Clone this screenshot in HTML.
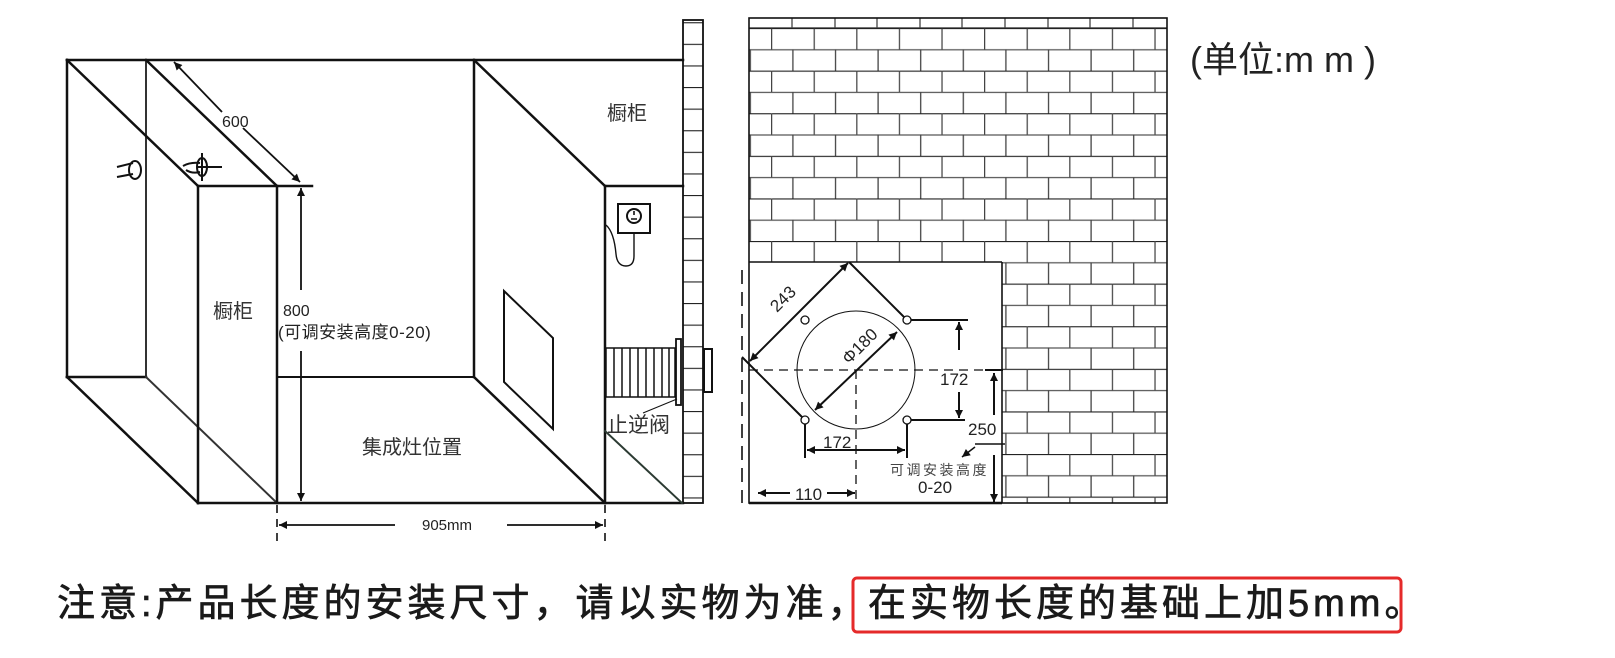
<!DOCTYPE html>
<html><head><meta charset="utf-8"><style>
html,body{margin:0;padding:0;background:#fff;}
body{width:1615px;height:658px;overflow:hidden;position:relative;font-family:"Liberation Sans","Noto Sans CJK SC",sans-serif;}
svg{position:absolute;left:0;top:0;}
</style></head><body>
<svg width="1615" height="658" viewBox="0 0 1615 658" xmlns="http://www.w3.org/2000/svg" font-family="Liberation Sans, Noto Sans CJK SC, sans-serif">
<defs>
<marker id="ah" viewBox="0 0 10 10" refX="10" refY="5" markerWidth="11" markerHeight="8" markerUnits="userSpaceOnUse" orient="auto-start-reverse"><path d="M0,0 L10,5 L0,10 z" fill="#111"/></marker>
<pattern id="brick" x="771" y="28" width="42.6" height="42.6" patternUnits="userSpaceOnUse">
<line x1="0" y1="0.5" x2="42.6" y2="0.5" stroke="#222" stroke-width="1.2"/>
<line x1="0" y1="21.8" x2="42.6" y2="21.8" stroke="#555" stroke-width="1.2"/>
<line x1="0.6" y1="0" x2="0.6" y2="21.3" stroke="#444" stroke-width="1.3"/>
<line x1="21.9" y1="21.3" x2="21.9" y2="42.6" stroke="#444" stroke-width="1.3"/>
</pattern>
<pattern id="strip" x="683" y="303" width="20" height="21.6" patternUnits="userSpaceOnUse">
<line x1="0" y1="0.5" x2="20" y2="0.5" stroke="#222" stroke-width="1.2"/>
</pattern>
</defs>

<rect x="749" y="28" width="418" height="475" fill="url(#brick)"/>
<line x1="749" y1="28" x2="1167" y2="28" stroke="#222" stroke-width="1.2"/>
<g stroke="#444" stroke-width="1.3">
<line x1="792" y1="18" x2="792" y2="28"/><line x1="835" y1="18" x2="835" y2="28"/><line x1="877" y1="18" x2="877" y2="28"/><line x1="920" y1="18" x2="920" y2="28"/><line x1="962" y1="18" x2="962" y2="28"/><line x1="1005" y1="18" x2="1005" y2="28"/><line x1="1048" y1="18" x2="1048" y2="28"/><line x1="1090" y1="18" x2="1090" y2="28"/><line x1="1133" y1="18" x2="1133" y2="28"/>
</g>
<rect x="749" y="262" width="253" height="241" fill="#fff"/>
<rect x="749" y="18" width="418" height="485" fill="none" stroke="#111" stroke-width="1.6"/>
<line x1="749" y1="262" x2="1002" y2="262" stroke="#111" stroke-width="1.6"/>
<line x1="1002" y1="262" x2="1002" y2="503" stroke="#111" stroke-width="1.6"/>
<line x1="749" y1="503" x2="1002" y2="503" stroke="#111" stroke-width="2.5"/>

<rect x="683" y="20" width="20" height="483" fill="url(#strip)"/>
<rect x="683" y="20" width="20" height="483" fill="none" stroke="#111" stroke-width="1.8"/>

<g stroke="#111" stroke-width="2.5" fill="none" stroke-linecap="square">
<line x1="67" y1="60" x2="683" y2="60"/>
<line x1="67" y1="60" x2="67" y2="377"/>
<line x1="146" y1="60" x2="146" y2="377" stroke="#333" stroke-width="2"/>
<line x1="67" y1="60" x2="198" y2="186"/>
<line x1="146" y1="60" x2="277" y2="186"/>
<line x1="67" y1="377" x2="146" y2="377"/>
<line x1="67" y1="377" x2="198" y2="503"/>
<line x1="146" y1="377" x2="277" y2="503" stroke="#333" stroke-width="2"/>
<line x1="198" y1="186" x2="198" y2="503"/>
<line x1="277" y1="186" x2="277" y2="503"/>
<line x1="198" y1="186" x2="312" y2="186"/>
<line x1="198" y1="503" x2="683" y2="503"/>
<line x1="277" y1="377" x2="474" y2="377" stroke-width="2"/>
<line x1="474" y1="60" x2="474" y2="377"/>
<line x1="474" y1="60" x2="605" y2="186"/>
<line x1="474" y1="377" x2="605" y2="503"/>
<line x1="605" y1="186" x2="605" y2="503"/>
<line x1="605" y1="186" x2="683" y2="186"/>
<line x1="605" y1="431" x2="682" y2="503" stroke="#2c3b33" stroke-width="2"/>
<polygon points="504,291 553,338 553,429 504,382" stroke-width="2"/>
</g>

<g stroke="#111" stroke-width="2" fill="none">
<ellipse cx="135" cy="170" rx="6" ry="9"/>
<line x1="117" y1="167" x2="133" y2="163"/>
<line x1="117" y1="177" x2="133" y2="174"/>
<ellipse cx="202" cy="167" rx="5" ry="9"/>
<line x1="202" y1="153" x2="202" y2="181"/>
<line x1="198" y1="167" x2="222" y2="167"/>
<path d="M183,166 Q190,162 200,163 M186,170 Q192,174 200,172"/>
</g>

<g stroke="#111" fill="none">
<rect x="618" y="204" width="32" height="29" stroke-width="2"/>
<circle cx="634" cy="216" r="7" stroke-width="2"/>
<path d="M634,211 v4 M631,219 h6" stroke-width="1.6"/>
<path d="M634,233 V256 Q634,266 626,266 Q617,266 616,254 Q614,232 606,225" stroke-width="1.4"/>
</g>

<g stroke="#111" fill="none">
<rect x="606" y="348" width="69" height="49" stroke-width="1.5"/>
<g stroke-width="1.5">
<line x1="614" y1="348" x2="614" y2="397"/><line x1="622" y1="348" x2="622" y2="397"/><line x1="630" y1="348" x2="630" y2="397"/><line x1="638" y1="348" x2="638" y2="397"/><line x1="646" y1="348" x2="646" y2="397"/><line x1="654" y1="348" x2="654" y2="397"/><line x1="662" y1="348" x2="662" y2="397"/><line x1="669" y1="348" x2="669" y2="397"/>
</g>
<rect x="676" y="339" width="5" height="66" stroke-width="1.8"/>
<rect x="704" y="349" width="8" height="43" stroke-width="2"/>
<line x1="643" y1="413" x2="677" y2="399" stroke-width="1"/>
</g>
<text x="607" y="432" font-size="21" fill="#333">止逆阀</text>

<g stroke="#111" stroke-width="1.8">
<line x1="222" y1="112" x2="174" y2="62" marker-end="url(#ah)"/>
<line x1="243" y1="128" x2="300" y2="182" marker-end="url(#ah)"/>
<line x1="301" y1="290" x2="301" y2="188" marker-end="url(#ah)"/>
<line x1="301" y1="351" x2="301" y2="501" marker-end="url(#ah)"/>
<line x1="395" y1="525" x2="279" y2="525" marker-end="url(#ah)"/>
<line x1="507" y1="525" x2="603" y2="525" marker-end="url(#ah)"/>
</g>
<g stroke="#111" stroke-width="1.6" stroke-dasharray="8,6">
<line x1="277" y1="505" x2="277" y2="545"/>
<line x1="605" y1="505" x2="605" y2="545"/>
</g>
<g fill="#222" font-size="16">
<text x="222" y="127">600</text>
<text x="283" y="316">800</text>
<text x="278" y="338" font-size="17" letter-spacing="0.5">(可调安装高度0-20)</text>
<text x="422" y="530" font-size="15">905mm</text>
</g>
<g fill="#333" font-size="20">
<text x="213" y="318">橱柜</text>
<text x="607" y="120">橱柜</text>
<text x="362" y="454">集成灶位置</text>
</g>

<g stroke="#111" fill="none">
<line x1="742" y1="270" x2="742" y2="503" stroke-width="1.6" stroke-dasharray="14,8"/>
<line x1="749" y1="370" x2="1002" y2="370" stroke-width="1.3" stroke-dasharray="9,6"/>
<line x1="856" y1="370" x2="856" y2="503" stroke-width="1.3" stroke-dasharray="9,6"/>
<circle cx="856" cy="370" r="59" stroke-width="1"/>
<line x1="849" y1="262" x2="904" y2="317" stroke-width="2"/>
<line x1="742" y1="357" x2="802" y2="417" stroke-width="2"/>
<line x1="911" y1="320" x2="968" y2="320" stroke-width="2"/>
<line x1="911" y1="420" x2="965" y2="420" stroke-width="2"/>
<line x1="805" y1="424" x2="805" y2="458" stroke-width="2"/>
<line x1="907" y1="424" x2="907" y2="458" stroke-width="2"/>
<circle cx="805" cy="320" r="4" stroke-width="1.3"/>
<circle cx="907" cy="320" r="4" stroke-width="1.3"/>
<circle cx="805" cy="420" r="4" stroke-width="1.3"/>
<circle cx="907" cy="420" r="4" stroke-width="1.3"/>
<line x1="985" y1="370" x2="1003" y2="370" stroke-width="2"/>
<line x1="975" y1="444" x2="1005" y2="444" stroke-width="1.5"/>
</g>
<g stroke="#111" stroke-width="2">
<line x1="750" y1="361" x2="848" y2="263" marker-start="url(#ah)" marker-end="url(#ah)"/>
<line x1="815" y1="410" x2="897" y2="332" marker-start="url(#ah)" marker-end="url(#ah)"/>
<line x1="959" y1="350" x2="959" y2="322" marker-end="url(#ah)"/>
<line x1="959" y1="392" x2="959" y2="418" marker-end="url(#ah)"/>
<line x1="807" y1="450" x2="905" y2="450" marker-start="url(#ah)" marker-end="url(#ah)"/>
<line x1="994" y1="415" x2="994" y2="373" marker-end="url(#ah)"/>
<line x1="994" y1="455" x2="994" y2="502" marker-end="url(#ah)"/>
<line x1="975" y1="447" x2="962" y2="457" stroke-width="1.5" marker-end="url(#ah)"/>
<line x1="790" y1="493" x2="758" y2="493" marker-end="url(#ah)"/>
<line x1="827" y1="493" x2="855" y2="493" marker-end="url(#ah)"/>
</g>
<g fill="#222">
<text x="0" y="0" font-size="17" transform="translate(777,313) rotate(-45)">243</text>
<text x="0" y="0" font-size="17" transform="translate(849,365) rotate(-45)">Φ180</text>
<text x="940" y="385" font-size="17">172</text>
<text x="823" y="448" font-size="17">172</text>
<text x="968" y="435" font-size="17">250</text>
<text x="890" y="475" font-size="14" fill="#444" letter-spacing="2.5">可调安装高度</text>
<text x="918" y="493" font-size="17">0-20</text>
<text x="795" y="500" font-size="17">110</text>
</g>

<text x="1190" y="72" font-size="36" fill="#222">(单位:m m )</text>

<text x="57" y="616" font-size="38" fill="#1a1a1a" stroke="#1a1a1a" stroke-width="0.7" letter-spacing="4">注意:产品长度的安装尺寸，请以实物为准，</text>
<rect x="853" y="578" width="548" height="54" rx="4" fill="none" stroke="#e52a2a" stroke-width="3"/>
<text x="868" y="616" font-size="38" fill="#1a1a1a" stroke="#1a1a1a" stroke-width="0.7" letter-spacing="4">在实物长度的基础上加5mm。</text>
</svg>
</body></html>
